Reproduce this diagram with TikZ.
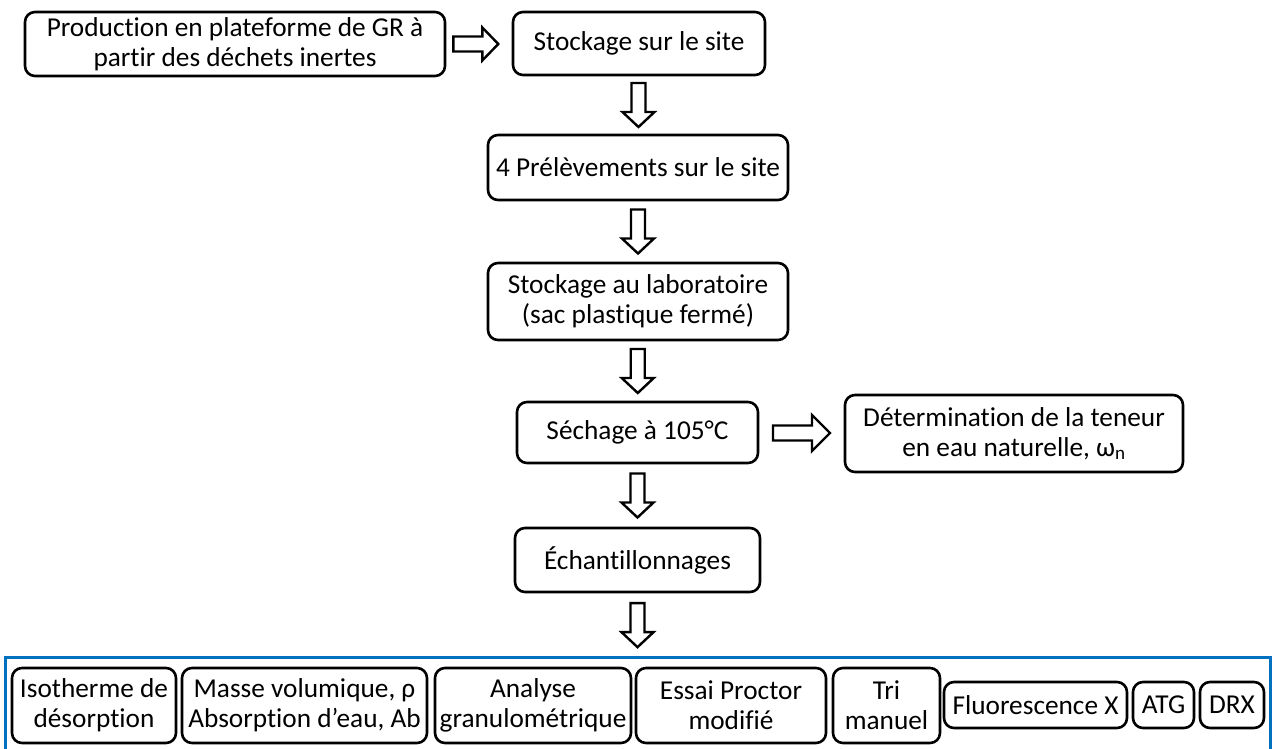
\documentclass[tikz,border=0pt]{standalone}
\usepackage{fontspec}
\setmainfont{Carlito}[Ligatures={NoCommon}]
\usetikzlibrary{calc}
\definecolor{frameblue}{HTML}{0070C0}
\begin{document}
\begin{tikzpicture}[x=1pt,y=-1pt,
  box/.style={draw=black, line width=2.6pt, rounded corners=10pt, fill=white,
    align=center, inner sep=0pt, text=black, font=\fontsize{27.3}{30}\selectfont},
  arrowline/.style={draw=black, fill=white, line width=2.4pt, line join=miter},
  framestyle/.style={draw=frameblue, line width=3pt},
  darr/.pic={\path[arrowline] (-7,-22) -- (7,-22) -- (7,7) -- (16,7) -- (0,22) -- (-16,7) -- (-7,7) -- cycle;},
  rarrA/.pic={\path[arrowline] (-22.5,-7.5) -- (6.5,-7.5) -- (6.5,-16.5) -- (22.5,0) -- (6.5,16.5) -- (6.5,7.5) -- (-22.5,7.5) -- cycle;},
  rarrB/.pic={\path[arrowline] (-28.5,-7.5) -- (10.5,-7.5) -- (10.5,-18) -- (28.5,0) -- (10.5,18) -- (10.5,7.5) -- (-28.5,7.5) -- cycle;}
]
\useasboundingbox (0,0) rectangle (1274,748);
\clip (0,0) rectangle (1274,748);
\fill[white] (0,0) rectangle (1274,748);

% blue frame (bottom runs off the picture)
\draw[framestyle] (5,770) -- (5,657) -- (1270,657) -- (1270,770);
\coordinate (frametop) at (637.5,657);

% main column
\node[box, minimum width=420, minimum height=64] (b1) at (235,44)
  {Production en plateforme de GR à\\partir des déchets inertes};
\node[box, minimum width=252, minimum height=63] (b2) at (639,43.5)
  {Stockage sur le site};
\node[box, minimum width=300, minimum height=65] (b3) at (638,167.5)
  {4 Prélèvements sur le site};
\node[box, minimum width=300, minimum height=77] (b4) at (638,301.5)
  {Stockage au laboratoire\\(sac plastique fermé)};
\node[box, minimum width=241, minimum height=61] (b5) at (637.5,432.5)
  {Séchage à 105°C};
\node[box, minimum width=338, minimum height=77] (b6) at (1014,433.5)
  {Détermination de la teneur\\en eau naturelle, ω\textsubscript{n}};
\node[box, minimum width=245, minimum height=64] (b7) at (637.5,560)
  {Échantillonnages};

% bottom row
\node[box, minimum width=164, minimum height=75] (c1) at (94,705.5)
  {Isotherme de\\désorption};
\node[box, minimum width=245, minimum height=75] (c2) at (304.5,705.5)
  {Masse volumique, ρ\\Absorption d’eau, Ab};
\node[box, minimum width=196, minimum height=75] (c3) at (533,705.5)
  {Analyse\\granulométrique};
\node[box, minimum width=190, minimum height=75] (c4) at (731,705.5)
  {Essai Proctor\\modifié};
\node[box, minimum width=107, minimum height=75] (c5) at (886.5,705.5)
  {Tri\\manuel};
\node[box, minimum width=183, minimum height=46] (c6) at (1035.5,705)
  {Fluorescence X};
\node[box, minimum width=61, minimum height=46] (c7) at (1163.5,705)
  {ATG};
\node[box, minimum width=64, minimum height=46] (c8) at (1232,705)
  {DRX};

% block arrows
\path ($(b1.east)+(29.5,0)$) pic {rarrA};
\path ($(b5.east)!0.5!(b6.west)$) pic {rarrB};
\path ($(b2.south)!0.5!(b3.north)$) pic {darr};
\path ($(b3.south)!0.5!(b4.north)$) pic {darr};
\path ($(b4.south)!0.5!(b5.north)$) pic {darr};
\path ($(b5.south)!0.5!(b7.north)$) pic {darr};
\path ($(b7.south)!0.5!(frametop)$) pic {darr};
\end{tikzpicture}
\end{document}
